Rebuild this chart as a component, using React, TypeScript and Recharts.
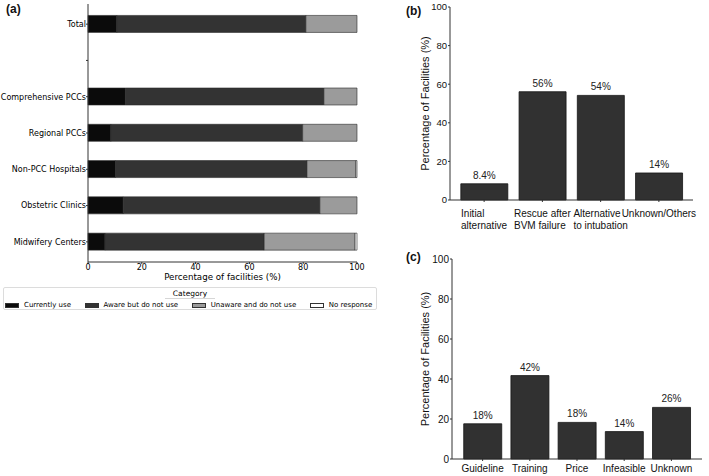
import { BarChart, Bar, XAxis, YAxis, LabelList, Label } from 'recharts';

// (a) awareness of supraglottic airway use by facility type (percent of facilities)
const facilityTypes = [
    'Total',
    '',
    'Comprehensive PCCs',
    'Regional PCCs',
    'Non-PCC Hospitals',
    'Obstetric Clinics',
    'Midwifery Centers'
];
const currentlyUse = [10.7, null, 13.9, 8.5, 10.2, 13.1, 6.3];
const awareNotUse = [70.3, null, 73.8, 71.3, 71.2, 73.1, 59.2];
const unawareNotUse = [19.0, null, 12.3, 20.2, 18.2, 13.8, 33.8];
const noResponse = [null, null, null, null, 0.4, null, 0.7];
const percentTicks = [0, 20, 40, 60, 80, 100];

// (b) situations in which the device is used
const useSituations = ['Initial\nalternative', 'Rescue after\nBVM failure', 'Alternative\nto intubation', 'Unknown/Others'];
const useShares = [8.4, 56.1, 54.2, 14.0];

// (c) reasons for not using it
const barrierReasons = ['Guideline', 'Training', 'Price', 'Infeasible', 'Unknown'];
const barrierShares = [17.6, 41.7, 18.3, 13.7, 25.8];

const SERIES = [
    { key: 'currentlyUse', label: 'Currently use', color: '#0b0b0b', values: currentlyUse },
    { key: 'awareNotUse', label: 'Aware but do not use', color: '#333333', values: awareNotUse },
    { key: 'unawareNotUse', label: 'Unaware and do not use', color: '#9b9b9b', values: unawareNotUse },
    { key: 'noResponse', label: 'No response', color: '#ffffff', values: noResponse }
];

const facilityData = facilityTypes.map((name, i) => {
    const row: Record<string, string | number | null> = { name };
    SERIES.forEach((s) => {
        row[s.key] = s.values[i];
    });
    return row;
});
const useData = useSituations.map((name, i) => ({ name, value: useShares[i] }));
const barrierData = barrierReasons.map((name, i) => ({ name, value: barrierShares[i] }));

const DEJAVU = '"DejaVu Sans", sans-serif';
const ARIAL = '"Liberation Sans", Arial, sans-serif';
const AXIS_COLOR = '#333';
const TICK_FONT = `10px ${ARIAL}`;

const measureCtx = typeof document !== 'undefined' ? document.createElement('canvas').getContext('2d') : null;
function textWidth(s: string, font: string) {
    if (!measureCtx) return s.length * 5.5;
    measureCtx.font = font;
    return measureCtx.measureText(s).width;
}

const pct = (v: unknown) => `${Number(v).toPrecision(2)}%`;

// facility names, right aligned against the axis, never wrapped
function FacilityTick(props: any) {
    const { x, y, payload } = props;
    return (
        <text x={x} y={y} dy="0.35em" textAnchor="end" fontSize={8} fontFamily={DEJAVU} fill="#000">
            {payload.value}
        </text>
    );
}

// category labels: block centred on the tick, lines left aligned
function MultiLineTick(props: any) {
    const { x, y, payload, baseline } = props;
    const lines = String(payload.value).split('\n');
    const w = Math.max(...lines.map((l) => textWidth(l, TICK_FONT)));
    const left = x - w / 2;
    return (
        <text x={left} y={y + baseline} fontSize={10} fontFamily={ARIAL} fill="#111" textAnchor="start">
            {lines.map((l, i) => (
                <tspan key={i} x={left} dy={i === 0 ? 0 : 11.7}>
                    {l}
                </tspan>
            ))}
        </text>
    );
}

function yTitle(text: string, cx: number) {
    return (props: any) => {
        const vb = props.viewBox || {};
        const cy = vb.y + vb.height / 2;
        return (
            <text
                x={cx}
                y={cy}
                transform={`rotate(-90, ${cx}, ${cy})`}
                textAnchor="middle"
                dominantBaseline="central"
                fontSize={11}
                fontFamily={ARIAL}
                fill="#111"
            >
                {text}
            </text>
        );
    };
}

function xTitle(props: any) {
    const vb = props.viewBox || {};
    return (
        <text x={vb.x + vb.width / 2} y={vb.y + 18} textAnchor="middle" fontSize={8.7} fontFamily={DEJAVU} fill="#000">
            Percentage of facilities (%)
        </text>
    );
}

const tagStyle: React.CSSProperties = {
    position: 'absolute',
    fontFamily: ARIAL,
    fontWeight: 'bold',
    fontSize: 12,
    lineHeight: '12px',
    color: '#111'
};

function FacilityLegend() {
    return (
        <div
            style={{
                position: 'absolute',
                left: 3,
                top: 287,
                width: 374,
                height: 23,
                border: '1px solid #dcdcdc',
                borderRadius: 2,
                fontFamily: DEJAVU,
                fontSize: 7,
                color: '#000',
                boxSizing: 'border-box',
                whiteSpace: 'nowrap'
            }}
        >
            <div style={{ textAlign: 'center', lineHeight: '9px', marginTop: 1 }}>
                <span style={{ display: 'inline-block', padding: '0 8px', borderBottom: '1px solid #d6d6d6', fontSize: 7.5 }}>
                    Category
                </span>
            </div>
            <div style={{ display: 'flex', alignItems: 'center', marginLeft: 1, marginTop: 2, lineHeight: '9px' }}>
                {SERIES.map((s) => (
                    <div key={s.key} style={{ display: 'flex', alignItems: 'center', marginRight: 13.5, flexShrink: 0 }}>
                        <span
                            style={{
                                display: 'inline-block',
                                width: 14,
                                height: 5,
                                background: s.color,
                                border: '0.7px solid #333',
                                boxSizing: 'border-box',
                                marginRight: 5
                            }}
                        />
                        <span>{s.label}</span>
                    </div>
                ))}
            </div>
        </div>
    );
}

export default function App() {
    return (
        <div
            style={{
                position: 'absolute',
                left: 0,
                top: 0,
                width: 709,
                height: 476,
                background: '#fff',
                overflow: 'hidden'
            }}
        >
            {/* (a) stacked horizontal bars */}
            <div style={{ position: 'absolute', left: 0, top: 0 }}>
                <BarChart
                    width={400}
                    height={300}
                    data={facilityData}
                    layout="vertical"
                    margin={{ top: 4, right: 43, left: 0, bottom: 8 }}
                    barCategoryGap="26%"
                >
                    <XAxis
                        type="number"
                        domain={[0, 100]}
                        ticks={percentTicks}
                        height={30}
                        stroke={AXIS_COLOR}
                        tickSize={2}
                        tickMargin={0}
                        tick={{ fontSize: 8, fontFamily: DEJAVU, fill: '#000' }}
                    >
                        <Label content={xTitle} />
                    </XAxis>
                    <YAxis
                        type="category"
                        dataKey="name"
                        width={88}
                        interval={0}
                        padding={{ top: 2, bottom: 2 }}
                        stroke={AXIS_COLOR}
                        tickSize={2}
                        tickMargin={0}
                        tick={(p: any) => <FacilityTick {...p} />}
                    />
                    {SERIES.map((s) => (
                        <Bar
                            key={s.key}
                            dataKey={s.key}
                            stackId="a"
                            fill={s.color}
                            stroke="#2a2a2a"
                            strokeWidth={0.6}
                            isAnimationActive={false}
                        />
                    ))}
                </BarChart>
            </div>
            <div style={{ ...tagStyle, left: 6, top: 3 }}>(a)</div>
            <FacilityLegend />

            {/* (b) usage situations */}
            <div style={{ position: 'absolute', left: 400, top: 0 }}>
                <BarChart
                    width={309}
                    height={240}
                    data={useData}
                    margin={{ top: 7, right: 16, left: 0, bottom: 0 }}
                    barCategoryGap="10%"
                >
                    <XAxis
                        dataKey="name"
                        height={40}
                        interval={0}
                        padding={{ left: 5, right: 5 }}
                        stroke={AXIS_COLOR}
                        tickSize={2}
                        tickMargin={1}
                        tick={(p: any) => <MultiLineTick {...p} baseline={14} />}
                    />
                    <YAxis
                        domain={[0, 100]}
                        ticks={percentTicks}
                        width={50}
                        stroke={AXIS_COLOR}
                        tickSize={2}
                        tickMargin={1}
                        tick={{ fontSize: 9.5, fontFamily: ARIAL, fill: '#111' }}
                    >
                        <Label content={yTitle('Percentage of Facilities (%)', 25)} />
                    </YAxis>
                    <Bar dataKey="value" fill="#313131" stroke="#151515" strokeWidth={0.8} isAnimationActive={false}>
                        <LabelList
                            dataKey="value"
                            position="top"
                            offset={5}
                            formatter={pct}
                            fill="#222"
                            fontSize={10}
                            fontFamily={ARIAL}
                        />
                    </Bar>
                </BarChart>
            </div>
            <div style={{ ...tagStyle, left: 406, top: 5 }}>(b)</div>

            {/* (c) reasons for non-use */}
            <div style={{ position: 'absolute', left: 400, top: 240 }}>
                <BarChart
                    width={309}
                    height={236}
                    data={barrierData}
                    margin={{ top: 19, right: 7, left: 0, bottom: 0 }}
                    barCategoryGap="10%"
                >
                    <XAxis
                        dataKey="name"
                        height={17}
                        interval={0}
                        padding={{ left: 7, right: 7 }}
                        stroke={AXIS_COLOR}
                        tickSize={2}
                        tickMargin={1}
                        tick={(p: any) => <MultiLineTick {...p} baseline={10.3} />}
                    />
                    <YAxis
                        domain={[0, 100]}
                        ticks={percentTicks}
                        width={52}
                        stroke={AXIS_COLOR}
                        tickSize={2}
                        tickMargin={1}
                        tick={{ fontSize: 10, fontFamily: ARIAL, fill: '#111' }}
                    >
                        <Label content={yTitle('Percentage of Facilities (%)', 25)} />
                    </YAxis>
                    <Bar dataKey="value" fill="#313131" stroke="#151515" strokeWidth={0.8} isAnimationActive={false}>
                        <LabelList
                            dataKey="value"
                            position="top"
                            offset={5}
                            formatter={pct}
                            fill="#222"
                            fontSize={10}
                            fontFamily={ARIAL}
                        />
                    </Bar>
                </BarChart>
            </div>
            <div style={{ ...tagStyle, left: 406, top: 251 }}>(c)</div>
        </div>
    );
}
